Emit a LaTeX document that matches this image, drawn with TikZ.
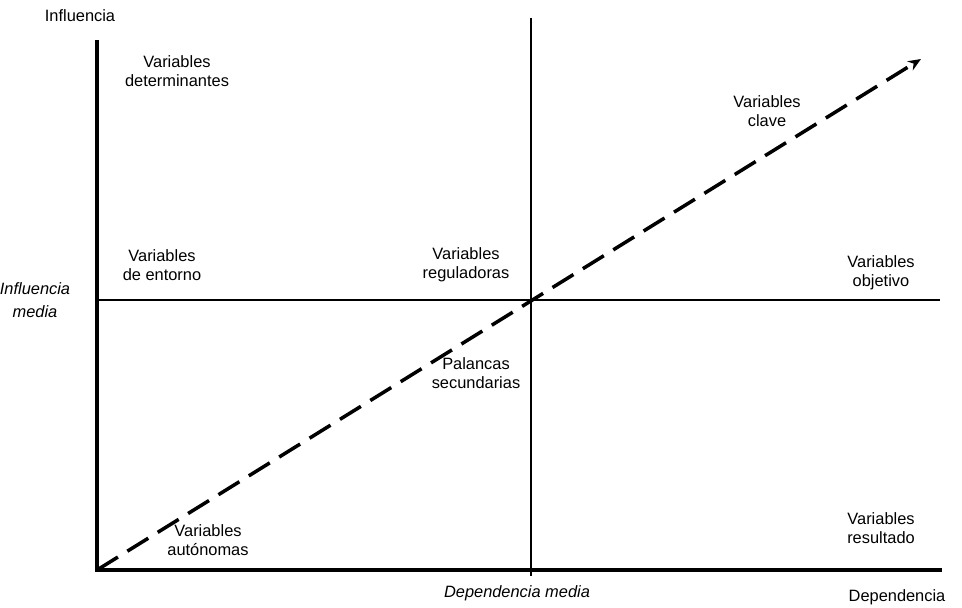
\documentclass[tikz,border=0pt]{standalone}
\usepackage{fontspec}
\setmainfont{Liberation Sans}
\usetikzlibrary{arrows.meta}
\usetikzlibrary{calc,positioning}

\begin{document}
\begin{tikzpicture}[>=Stealth, x=0.03cm, y=-0.03cm,
    axis/.style={line width=3pt},
    midline/.style={line width=1.6pt},
    lbl/.style={align=center, font=\fontsize{14}{16.5}\selectfont, inner sep=0pt},
    ilbl/.style={lbl, font=\fontsize{14}{19.5}\selectfont\itshape}]

    \useasboundingbox (0,0) rectangle (962,607);

    \coordinate (O) at (97,570);
    \coordinate (Ytop) at (97,42);
    \coordinate (Xend) at (940,570);
    \coordinate (Mtop) at (531,18);
    \coordinate (Mbot) at (531,576);
    \coordinate (Hleft) at (97,300);
    \coordinate (Hright) at (940,300);
    \coordinate (Tip) at (921,59);

    \draw[midline] (Mtop) -- (Mbot);
    \draw[midline] (Hleft) -- (Hright);
    \draw[axis, line cap=rect] (Ytop) -- (O) -- (Xend);
    \draw[-{Stealth[length=11pt,width=9pt]}, line width=3pt, dash pattern=on 21pt off 9.5pt]
        (O) -- (Tip);

    \node[lbl] (infl) at (80,16) {Influencia};
    \node[lbl] (depend) at (897,597) {Dependencia};
    \node[ilbl] (inflmed) at (35,300) {Influencia\\media};
    \node[ilbl] (depmed) at (517,593) {Dependencia media};

    \node[lbl] (determ) at (177,71) {Variables\\determinantes};
    \node[lbl] (clave) at (767,111) {Variables\\clave};
    \node[lbl] (entorno) at (162,265) {Variables\\de entorno};
    \node[lbl] (regul) at (466,265) {Variables\\reguladoras};
    \node[lbl] (objetivo) at (881,273) {Variables\\objetivo};
    \node[lbl] (palancas) at (476,373) {Palancas\\secundarias};
    \node[lbl] (auton) at (208,540) {Variables\\autónomas};
    \node[lbl] (result) at (881,528) {Variables\\resultado};

\end{tikzpicture}
\end{document}
